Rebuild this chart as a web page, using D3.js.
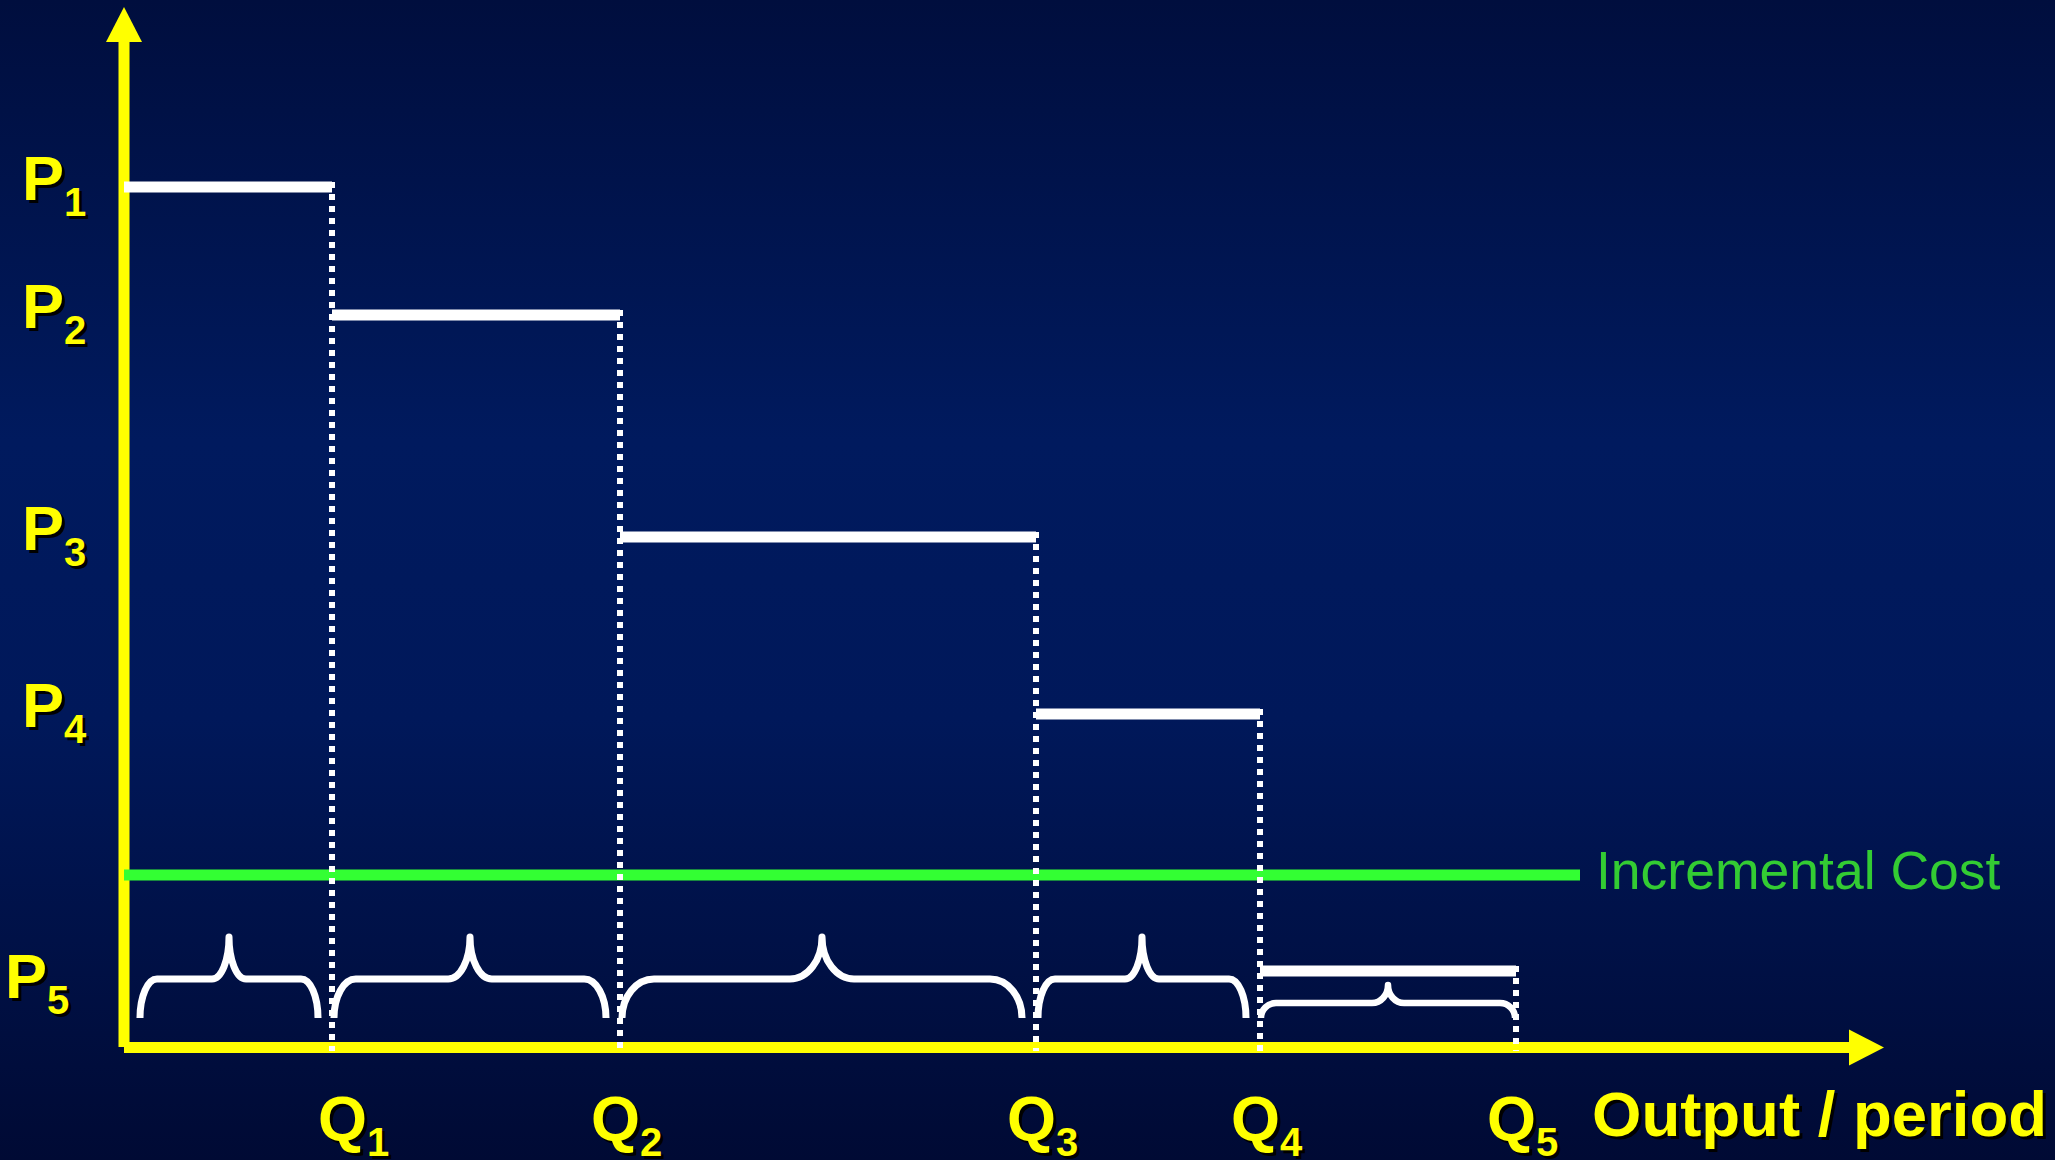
<!DOCTYPE html>
<html>
<head>
<meta charset="utf-8">
<script src="https://cdn.jsdelivr.net/npm/d3@7"></script>
<style>
  html, body { margin: 0; padding: 0; background: #001450; overflow: hidden; }
  svg { display: block; }
  text { font-family: "Liberation Sans", Arial, Helvetica, sans-serif; }
</style>
</head>
<body>
<svg id="chart" width="2055" height="1160"></svg>
<script>
// Price-discrimination step demand: price tiers and the output at which each tier ends
const priceLabels = ["1", "2", "3", "4", "5"];
const prices      = [86, 73.2, 51, 33.3, 7.6];
const quantityLabels = ["1", "2", "3", "4", "5"];
const quantities     = [20.8, 49.6, 91.2, 113.6, 139.2];
const incrementalCost = 17.2;
const incrementalCostEnd = 145.6;
const incrementalCostLabel = "Incremental Cost";
const xAxisTitle = "Output / period";
const xAxisMax = 176;
const yAxisMax = 104;

// layout nudges for the tier labels (pixels)
const pLabelNudge = [[0, 0], [0, 0], [0, 0], [0, 0], [-17, 14]];
const qLabelNudge = [15, 0, 0, 0, 0];

const W = 2055, H = 1160;
const svg = d3.select("#chart");

// background
const defs = svg.append("defs");
const bg = defs.append("linearGradient").attr("id", "bg")
  .attr("x1", 0).attr("y1", 0).attr("x2", 0).attr("y2", 1);
[[0, "#000e3e"], [0.38, "#001a5e"], [0.62, "#00185a"], [1, "#000a34"]]
  .forEach(([o, c]) => bg.append("stop").attr("offset", o).attr("stop-color", c));
svg.append("rect").attr("width", W).attr("height", H).attr("fill", "url(#bg)");

// 10 px per unit on both axes
const x = d3.scaleLinear().domain([0, 100]).range([124, 1124]);
const y = d3.scaleLinear().domain([0, 100]).range([1047, 47]);

const YELLOW = "#ffff00";
const AXIS_W = 11;

// axes
const axes = svg.append("g");
axes.append("line")
  .attr("x1", x(0)).attr("x2", x(0))
  .attr("y1", y(0)).attr("y2", y(yAxisMax) + 34)
  .attr("stroke", YELLOW).attr("stroke-width", AXIS_W);
axes.append("path")
  .attr("d", d3.line()([[x(0), y(yAxisMax)], [x(0) - 18, y(yAxisMax) + 35], [x(0) + 18, y(yAxisMax) + 35]]) + "Z")
  .attr("fill", YELLOW);
axes.append("line")
  .attr("x1", x(0)).attr("x2", x(xAxisMax) - 34)
  .attr("y1", y(0) + 0.5).attr("y2", y(0) + 0.5)
  .attr("stroke", YELLOW).attr("stroke-width", AXIS_W);
axes.append("path")
  .attr("d", d3.line()([[x(xAxisMax), y(0) + 0.5], [x(xAxisMax) - 35, y(0) - 17.5], [x(xAxisMax) - 35, y(0) + 18.5]]) + "Z")
  .attr("fill", YELLOW);

// incremental cost line
svg.append("line")
  .attr("x1", x(0)).attr("x2", x(incrementalCostEnd))
  .attr("y1", y(incrementalCost)).attr("y2", y(incrementalCost))
  .attr("stroke", "#33ff33").attr("stroke-width", 11);
svg.append("text")
  .attr("x", x(incrementalCostEnd) + 16).attr("y", y(incrementalCost) + 14)
  .attr("font-size", 53.5).attr("fill", "#33cc33")
  .text(incrementalCostLabel);

// price tiers
const tiers = prices.map((p, i) => ({
  p, q0: i === 0 ? 0 : quantities[i - 1], q1: quantities[i], i
}));

const steps = svg.append("g");
steps.selectAll("line.drop").data(tiers).join("line")
  .attr("class", "drop")
  .attr("x1", d => x(d.q1)).attr("x2", d => x(d.q1))
  .attr("y1", d => y(d.p) - 5).attr("y2", y(0) + 4)
  .attr("stroke", "#ffffff").attr("stroke-width", 6)
  .attr("stroke-dasharray", "6 6");
steps.selectAll("line.tier").data(tiers).join("line")
  .attr("class", "tier")
  .attr("x1", d => x(d.q0)).attr("x2", d => x(d.q1))
  .attr("y1", d => y(d.p)).attr("y2", d => y(d.p))
  .attr("stroke", "#ffffff").attr("stroke-width", 11);

// curly braces spanning each tier's output range
function brace(L, R, base, mid, tip, rx, rt) {
  const m = (L + R) / 2;
  return `M${L},${base} A${rx},${base - mid} 0 0 1 ${L + rx},${mid}` +
    ` H${m - rt} A${rt},${mid - tip} 0 0 0 ${m},${tip}` +
    ` A${rt},${mid - tip} 0 0 0 ${m + rt},${mid}` +
    ` H${R - rx} A${rx},${base - mid} 0 0 1 ${R},${base}`;
}
const braces = svg.append("g").attr("fill", "none").attr("stroke", "#ffffff")
  .attr("stroke-linejoin", "round");
tiers.forEach((d, i) => {
  const last = i === tiers.length - 1;
  if (!last) {
    const L = x(d.q0) + (i === 0 ? 16 : 2);
    const R = x(d.q1) - 14;
    const w = R - L;
    const r = Math.max(17, w * 0.08);
    braces.append("path")
      .attr("d", brace(L, R, y(0) - 29, y(0) - 68, y(0) - 110, r, r))
      .attr("stroke-width", 7);
  } else {
    braces.append("path")
      .attr("d", brace(x(d.q0) + 1, x(d.q1) - 1, y(0) - 29, y(0) - 44, y(0) - 62, 15, 16))
      .attr("stroke-width", 6.5);
  }
});

// labels with drop shadow
function shadowText(g, xPos, yPos, main, sub, size, subSize, subDy) {
  [[3, 3, "#000000"], [0, 0, YELLOW]].forEach(([dx, dy, c]) => {
    const t = g.append("text")
      .attr("x", xPos + dx).attr("y", yPos + dy)
      .attr("font-size", size).attr("font-weight", "bold").attr("fill", c);
    t.append("tspan").text(main);
    if (sub) t.append("tspan").attr("font-size", subSize).attr("dy", subDy).text(sub);
  });
}

const labels = svg.append("g");
priceLabels.forEach((s, i) => {
  shadowText(labels, 22 + pLabelNudge[i][0], y(prices[i]) + 13 + pLabelNudge[i][1],
    "P", s, 63, 40, 16);
});
quantityLabels.forEach((s, i) => {
  shadowText(labels, x(quantities[i]) - 29 + qLabelNudge[i], 1140, "Q", s, 63, 40, 16);
});
shadowText(labels, 1592, 1136, xAxisTitle, null, 63.5);
</script>
</body>
</html>
